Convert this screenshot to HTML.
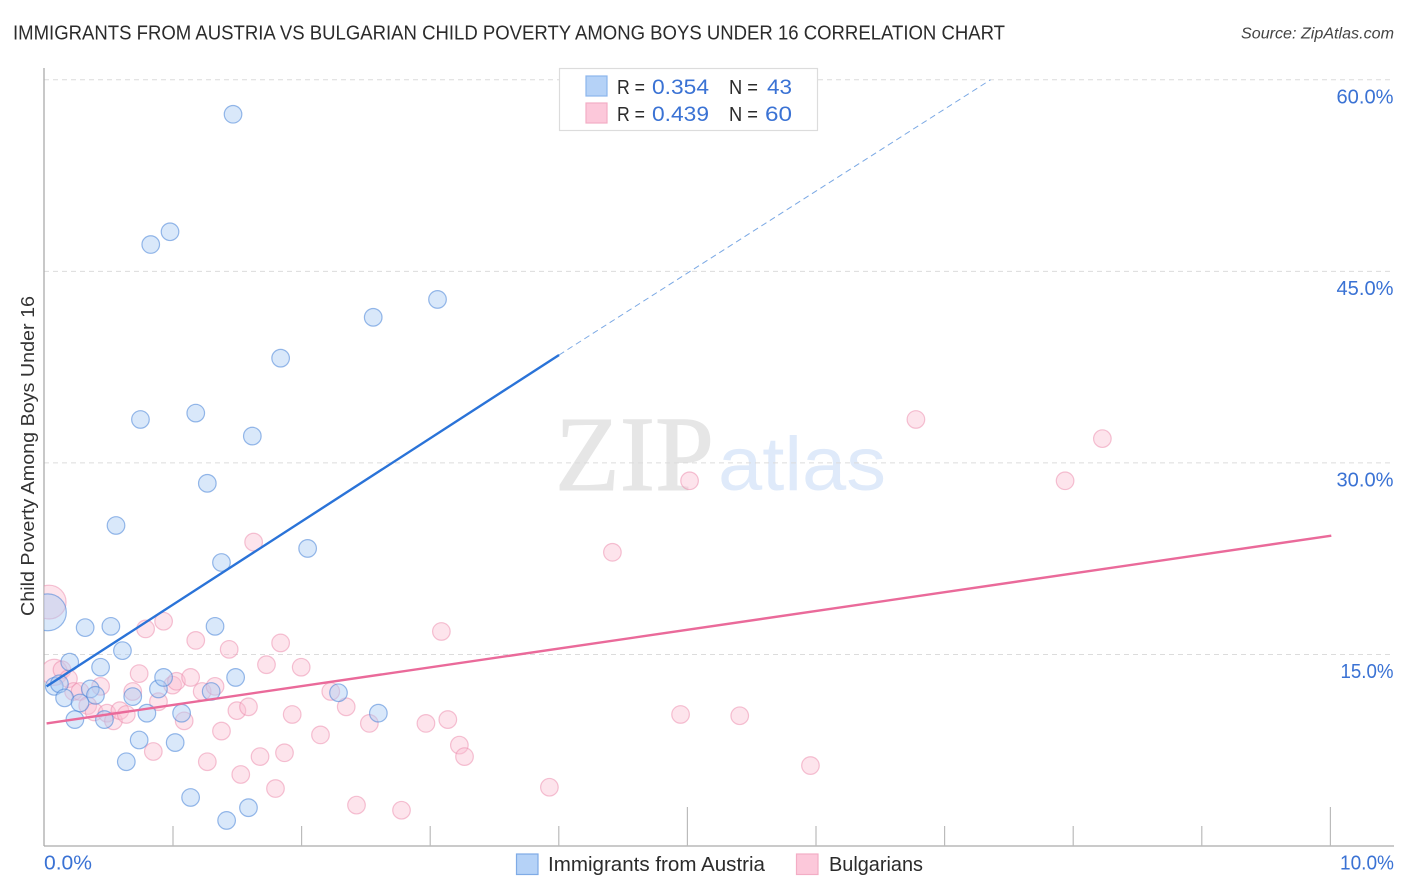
<!DOCTYPE html>
<html lang="en">
<head>
<meta charset="utf-8">
<title>Immigrants from Austria vs Bulgarian Child Poverty Among Boys Under 16 Correlation Chart</title>
<style>
html,body{margin:0;padding:0;background:#fff;width:1406px;height:892px;overflow:hidden}
svg{display:block;font-family:"Liberation Sans",sans-serif}
</style>
</head>
<body>
<svg id="chart" xmlns="http://www.w3.org/2000/svg" width="1406" height="892" viewBox="0 0 1406 892">
  <defs><clipPath id="plot-clip"><rect x="44" y="60" width="1350" height="786"/></clipPath></defs>
  <text x="13" y="39.5" font-size="20" fill="#2b2b2b" textLength="992" lengthAdjust="spacingAndGlyphs">IMMIGRANTS FROM AUSTRIA VS BULGARIAN CHILD POVERTY AMONG BOYS UNDER 16 CORRELATION CHART</text>
  <text x="1241" y="38.5" font-size="15.5" font-style="italic" fill="#444" textLength="153" lengthAdjust="spacingAndGlyphs">Source: ZipAtlas.com</text>
  <g>
    <text x="555" y="490" font-family="'Liberation Serif',serif" font-size="107" fill="#e6e6e6" stroke="#e6e6e6" stroke-width="1" textLength="159" lengthAdjust="spacingAndGlyphs">ZIP</text>
    <text x="718" y="490" font-size="76" fill="#dfeafa" textLength="168" lengthAdjust="spacingAndGlyphs">atlas</text>
  </g>
  <g id="grid"></g>
  <g id="axes"></g>
  <g id="pink-points" clip-path="url(#plot-clip)"></g>
  <g id="blue-points" clip-path="url(#plot-clip)"></g>
  <g id="trends"></g>
  <text transform="translate(34,456) rotate(-90)" text-anchor="middle" font-size="18.5" fill="#333" textLength="320" lengthAdjust="spacingAndGlyphs">Child Poverty Among Boys Under 16</text>

  <g>
    <rect x="559.5" y="68.5" width="258" height="62" fill="#fff" stroke="#dcdcdc" stroke-width="1.2"/>
    <rect x="586" y="76" width="21" height="20" fill="#b5d2f7" stroke="#8cb6ec" stroke-width="1.2"/>
    <rect x="586" y="103" width="21" height="20" fill="#fcc8da" stroke="#f3adc5" stroke-width="1.2"/>
    <g font-size="20" fill="#2b2b2b">
      <text x="617" y="94" textLength="28" lengthAdjust="spacingAndGlyphs">R =</text>
      <text x="729" y="94" textLength="29" lengthAdjust="spacingAndGlyphs">N =</text>
      <text x="617" y="121" textLength="28" lengthAdjust="spacingAndGlyphs">R =</text>
      <text x="729" y="121" textLength="29" lengthAdjust="spacingAndGlyphs">N =</text>
    </g>
    <g font-size="21" fill="#3a72d4">
      <text x="652" y="94" textLength="57" lengthAdjust="spacingAndGlyphs">0.354</text>
      <text x="767" y="94" textLength="25" lengthAdjust="spacingAndGlyphs">43</text>
      <text x="652" y="121" textLength="57" lengthAdjust="spacingAndGlyphs">0.439</text>
      <text x="765" y="121" textLength="27" lengthAdjust="spacingAndGlyphs">60</text>
    </g>
  </g>

  <g>
    <rect x="516.5" y="854" width="21.5" height="20.5" fill="#b5d2f7" stroke="#7fabe6" stroke-width="1.2"/>
    <text x="548" y="871" font-size="20" fill="#2b2b2b" textLength="217" lengthAdjust="spacingAndGlyphs">Immigrants from Austria</text>
    <rect x="796.5" y="854" width="21.5" height="20.5" fill="#fcc8da" stroke="#f3adc5" stroke-width="1.2"/>
    <text x="829" y="871" font-size="20" fill="#2b2b2b" textLength="94" lengthAdjust="spacingAndGlyphs">Bulgarians</text>
  </g>
</svg>
<script>
const yTicks = [15, 30, 45, 60];
const yTickLabels = ["15.0%", "30.0%", "45.0%", "60.0%"];
const xTicks = [0, 1, 2, 3, 4, 5, 6, 7, 8, 9, 10];
const xEndLabels = ["0.0%", "10.0%"];

const blueX = [1.47,0.98,0.83,3.06,2.56,1.84,0.75,1.18,1.62,1.27,0.56,2.05,1.38,0.03,0.32,0.52,0.61,0.20,0.44,0.08,0.12,0.36,0.40,0.16,0.28,0.24,0.47,0.69,0.80,0.89,0.93,1.07,1.30,1.49,1.33,0.74,1.02,0.64,1.14,1.59,1.42,2.29,2.60];
const blueY = [57.3,48.1,47.1,42.8,41.4,38.2,33.4,33.9,32.1,28.4,25.1,23.3,22.2,18.3,17.1,17.2,15.3,14.4,14.0,12.5,12.7,12.3,11.8,11.6,11.2,9.9,9.9,11.7,10.4,12.3,13.2,10.4,12.1,13.2,17.2,8.3,8.1,6.6,3.8,3.0,2.0,12.0,10.4];
const blueWeight = {13: 4.4};

const pinkX = [0.04,0.08,0.14,0.19,0.23,0.28,0.44,0.34,0.39,0.49,0.54,0.59,0.64,0.69,0.74,0.89,1.00,1.03,1.14,1.23,1.33,1.09,0.85,0.79,0.93,1.18,1.44,1.84,1.73,2.00,1.50,1.59,1.93,1.38,1.27,1.68,1.87,1.53,1.80,2.23,2.35,2.15,2.53,2.97,3.14,3.23,3.27,3.93,2.43,2.78,1.63,3.09,4.42,5.02,6.78,8.23,7.94,4.95,5.41,5.96];
const pinkY = [19.1,13.6,13.8,13.1,12.1,12.1,12.5,11.0,10.5,10.4,9.8,10.6,10.3,12.1,13.5,11.3,12.6,12.9,13.2,12.1,12.5,9.8,7.4,17.0,17.6,16.1,15.4,15.9,14.2,14.0,10.6,10.9,10.3,9.0,6.6,7.0,7.3,5.6,4.5,12.1,10.9,8.7,9.6,9.6,9.9,7.9,7.0,4.6,3.2,2.8,23.8,16.8,23.0,28.6,33.4,31.9,28.6,10.3,10.2,6.3];
const pinkWeight = {0: 3.7, 1: 2.2};

const blueTrendX = [0.02, 4.005];
const blueTrendY = [12.5, 38.45];
const blueDashX = [4.005, 7.36];
const blueDashY = [38.45, 60];
const pinkTrendX = [0.02, 10.01];
const pinkTrendY = [9.6, 24.3];

const NS = "http://www.w3.org/2000/svg";
const xScale = v => 44 + v * 128.6;
const yScale = v => 846 - v * 12.77;
const radius = w => 8.8 * Math.sqrt(w);

function make(parent, tag, attrs) {
  const el = document.createElementNS(NS, tag);
  for (const k in attrs) el.setAttribute(k, attrs[k]);
  parent.appendChild(el);
  return el;
}

const grid = document.getElementById("grid");
const axes = document.getElementById("axes");
yTicks.forEach((t, i) => {
  const line = make(grid, "line", {x1: 44, x2: 1394, y1: yScale(t), y2: yScale(t), stroke: "#dcdcdc", "stroke-width": 1, "stroke-dasharray": "5 4"});
  
  
  const label = make(axes, "text", {x: 1393.5, y: yScale(t) + 23.5, "text-anchor": "end", "font-size": 20, fill: "#3a72d4", textLength: yTickLabels[i][0] === "1" ? 53 : 57, lengthAdjust: "spacingAndGlyphs"});
  label.textContent = yTickLabels[i];
  
  
});

const yAxis = make(axes, "line", {x1: 44, x2: 44, y1: 68, y2: 846, stroke: "#aaa", "stroke-width": 1.3});


const xAxis = make(axes, "line", {x1: 44, x2: 1394, y1: 846, y2: 846, stroke: "#aaa", "stroke-width": 1.3});



xTicks.forEach(t => {
  if (t === 0) return;
  const len = t % 5 === 0 ? 39 : 20;
  const tick = make(axes, "line", {x1: xScale(t) + 0.4, x2: xScale(t) + 0.4, y1: 846 - len, y2: 846, stroke: "#bbb", "stroke-width": 1.2});
  
  
});

const xLabelStart = make(axes, "text", {x: 44, y: 869.5, "font-size": 20, fill: "#3a72d4", textLength: 48, lengthAdjust: "spacingAndGlyphs"});
xLabelStart.textContent = xEndLabels[0];


const xLabelEnd = make(axes, "text", {x: 1394, y: 869.5, "text-anchor": "end", "font-size": 20, fill: "#3a72d4", textLength: 54, lengthAdjust: "spacingAndGlyphs"});
xLabelEnd.textContent = xEndLabels[1];



const pinkGroup = document.getElementById("pink-points");
pinkX.forEach((v, i) => {
  const c = make(pinkGroup, "circle", {cx: xScale(v), cy: yScale(pinkY[i]), r: radius(pinkWeight[i] || 1), fill: "rgba(250,190,210,0.42)", stroke: "rgba(236,135,170,0.5)", "stroke-width": 1.2});
  
  
});

const blueGroup = document.getElementById("blue-points");
blueX.forEach((v, i) => {
  const c = make(blueGroup, "circle", {cx: xScale(v), cy: yScale(blueY[i]), r: radius(blueWeight[i] || 1), fill: "rgba(170,205,245,0.45)", stroke: "rgba(70,130,215,0.55)", "stroke-width": 1.2});
  
  
});

const trends = document.getElementById("trends");
const blueDash = make(trends, "line", {x1: xScale(blueDashX[0]), y1: yScale(blueDashY[0]), x2: xScale(blueDashX[1]), y2: yScale(blueDashY[1]), stroke: "#7aa8e4", "stroke-width": 1, "stroke-dasharray": "6 4"});


const blueTrend = make(trends, "line", {x1: xScale(blueTrendX[0]), y1: yScale(blueTrendY[0]), x2: xScale(blueTrendX[1]), y2: yScale(blueTrendY[1]), stroke: "#2a73d8", "stroke-width": 2.4});


const pinkTrend = make(trends, "line", {x1: xScale(pinkTrendX[0]), y1: yScale(pinkTrendY[0]), x2: xScale(pinkTrendX[1]), y2: yScale(pinkTrendY[1]), stroke: "#ea6a9a", "stroke-width": 2.4});


</script>
</body>
</html>
